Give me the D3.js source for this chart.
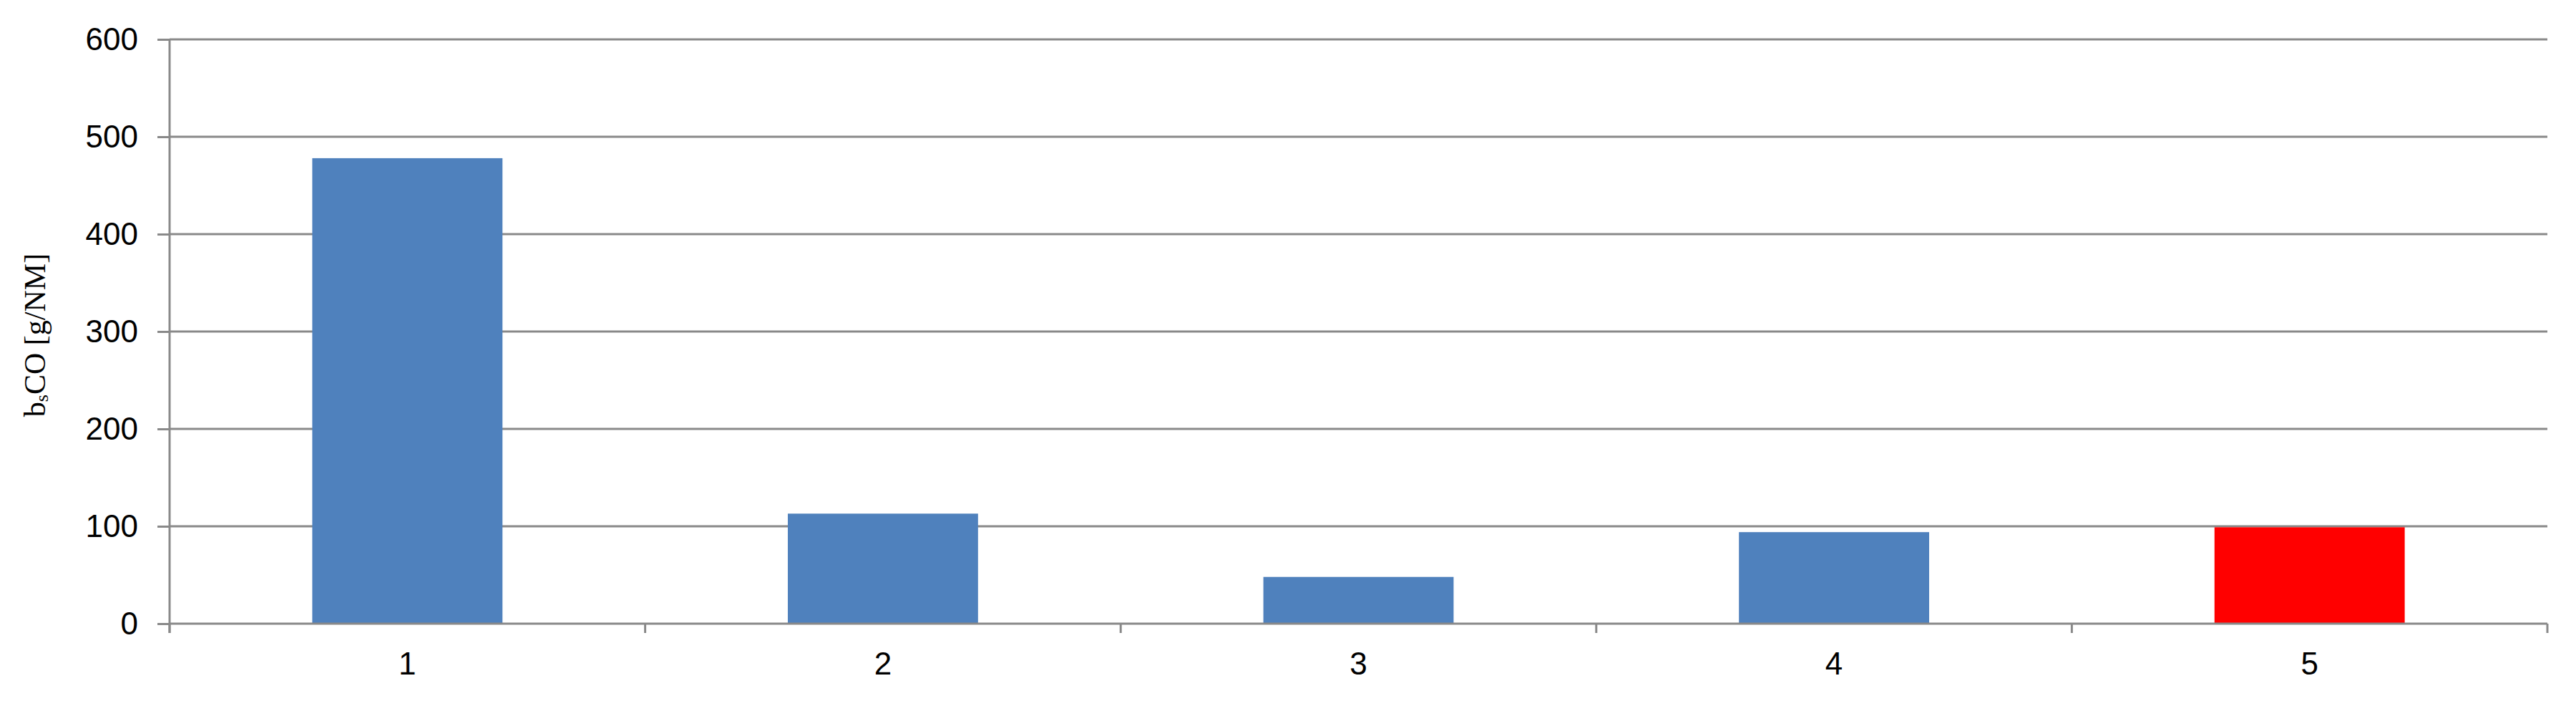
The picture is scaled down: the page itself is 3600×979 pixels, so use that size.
<!DOCTYPE html>
<html>
<head>
<meta charset="utf-8">
<script src="https://cdn.jsdelivr.net/npm/d3@7"></script>
<style>
  body { margin: 0; background: #fff; }
</style>
</head>
<body>
<div id="vis1"></div>
<script>
const categories = ["1", "2", "3", "4", "5"];
const values = [478, 113, 48, 94, 99];
const yTicks = [0, 100, 200, 300, 400, 500, 600];

const WIDTH = 3600;
const HEIGHT = 979;
const MARG = {left: 237, right: 40, top: 55, bottom: 108};
const VIS_WIDTH = WIDTH - MARG.left - MARG.right;
const VIS_HEIGHT = HEIGHT - MARG.top - MARG.bottom;
const GREY = "#898989";

const svg = d3.select("#vis1")
  .append("svg")
    .attr("width", WIDTH)
    .attr("height", HEIGHT);

const X_SCALE = d3.scaleBand().domain(categories).range([0, VIS_WIDTH])
  .paddingInner(0.6).paddingOuter(0.3);
const Y_SCALE = d3.scaleLinear().domain([0, 600]).range([VIS_HEIGHT, 0]);

const g = svg.append("g").attr("transform", "translate(" + MARG.left + "," + MARG.top + ")");

// gridlines
g.append("g").selectAll("line")
  .data(yTicks.filter(d => d > 0))
  .enter().append("line")
    .attr("x1", 0).attr("x2", VIS_WIDTH)
    .attr("y1", d => Y_SCALE(d)).attr("y2", d => Y_SCALE(d))
    .attr("stroke", GREY).attr("stroke-width", 3);

// bars
g.selectAll(".bar")
  .data(values)
  .enter().append("rect")
    .attr("class", "bar")
    .attr("x", (d, i) => X_SCALE(categories[i]))
    .attr("y", d => Y_SCALE(d))
    .attr("width", X_SCALE.bandwidth())
    .attr("height", d => VIS_HEIGHT - Y_SCALE(d))
    .attr("fill", (d, i) => i === 4 ? "#ff0000" : "#4f81bd");

// y axis
const yAxis = g.append("g")
  .call(d3.axisLeft(Y_SCALE).tickValues(yTicks).tickSize(17).tickPadding(27));
yAxis.select(".domain").attr("stroke", GREY).attr("stroke-width", 3)
  .attr("d", "M0,0V" + (VIS_HEIGHT + 13));
yAxis.selectAll(".tick line").attr("stroke", GREY).attr("stroke-width", 3);
yAxis.selectAll(".tick text")
  .attr("font-family", "Liberation Sans, Arial, sans-serif")
  .attr("font-size", 44).attr("fill", "#000");

// x axis: ticks at band boundaries
const xg = g.append("g").attr("transform", "translate(0," + VIS_HEIGHT + ")");
xg.append("line")
  .attr("x1", 0).attr("x2", VIS_WIDTH)
  .attr("stroke", GREY).attr("stroke-width", 3);
const step = X_SCALE.step();
xg.selectAll(".xtick")
  .data(d3.range(categories.length + 1))
  .enter().append("line")
    .attr("class", "xtick")
    .attr("x1", i => i * step).attr("x2", i => i * step)
    .attr("y1", 0).attr("y2", 13)
    .attr("stroke", GREY).attr("stroke-width", 3);
xg.selectAll(".xlabel")
  .data(categories)
  .enter().append("text")
    .attr("class", "xlabel")
    .attr("x", d => X_SCALE(d) + X_SCALE.bandwidth() / 2)
    .attr("y", 71)
    .attr("text-anchor", "middle")
    .attr("font-family", "Liberation Sans, Arial, sans-serif")
    .attr("font-size", 44)
    .text(d => d);

// y title
const title = svg.append("text")
  .attr("transform", "translate(63,468) rotate(-90)")
  .attr("text-anchor", "middle")
  .attr("font-family", "Liberation Serif, Times New Roman, serif")
  .attr("font-size", 42)
  .attr("fill", "#000");
title.append("tspan").text("b");
title.append("tspan").attr("font-size", 26).attr("dy", 4).text("s");
title.append("tspan").attr("dy", -4).text("CO [g/NM]");
</script>
</body>
</html>
